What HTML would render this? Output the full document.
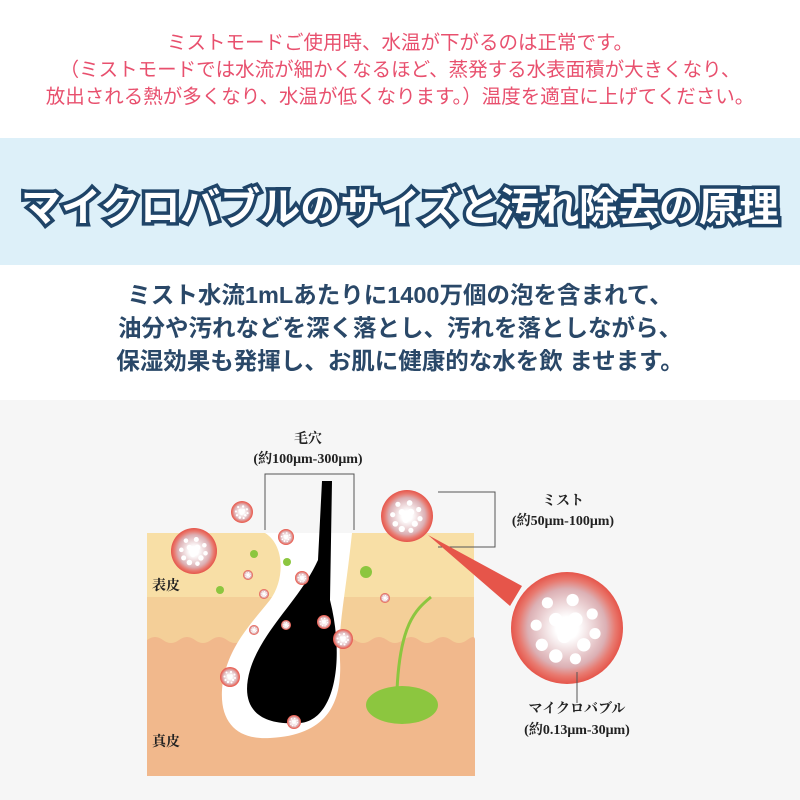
<!DOCTYPE html>
<html><head><meta charset="utf-8"><style>
body{margin:0;width:800px;height:800px;overflow:hidden;background:#fff;font-family:"Liberation Sans","Noto Sans CJK JP",sans-serif;position:relative}
.top{position:absolute;top:30px;left:0;width:800px;text-align:center;color:#e8506e;font-size:19.5px;line-height:27px}
.band{position:absolute;top:138px;left:0;width:800px;height:127px;background:#ddf0f9}
.title{position:absolute;top:175px;width:800px;text-align:center;font-size:40px;font-weight:bold;color:#fff;-webkit-text-stroke:7px #1f4468;paint-order:stroke fill}
.body{position:absolute;top:279px;width:800px;text-align:center;color:#2a4868;font-size:23.5px;font-weight:bold;line-height:33px}
.gray{position:absolute;top:400px;left:0;width:800px;height:400px;background:#f6f6f6}
svg{position:absolute;left:0;top:400px}
</style></head><body>
<div class="top">ミストモードご使用時、水温が下がるのは正常です。<br>（ミストモードでは水流が細かくなるほど、蒸発する水表面積が大きくなり、<br>放出される熱が多くなり、水温が低くなります。）温度を適宜に上げてください。</div>
<div class="band"></div>
<div class="title">マイクロバブルのサイズと汚れ除去の原理</div>
<div class="body">ミスト水流1mLあたりに1400万個の泡を含まれて、<br>油分や汚れなどを深く落とし、汚れを落としながら、<br>保湿効果も発揮し、お肌に健康的な水を飲 ませます。</div>
<div class="gray"></div>
<svg width="800" height="400" viewBox="0 400 800 400" font-family="Liberation Serif,Noto Serif CJK SC,serif">
<defs>
<radialGradient id="b"><stop offset="0.2" stop-color="#fff"/><stop offset="0.7" stop-color="#dcb0b4"/><stop offset="0.86" stop-color="#e87a70"/><stop offset="1" stop-color="#e6554a"/></radialGradient>
<g id="bub"><circle r="1" fill="url(#b)"/>
<g fill="#fff"><circle cx="-0.35" cy="-0.45" r="0.1"/><circle cx="0.1" cy="-0.5" r="0.11"/><circle cx="0.45" cy="-0.25" r="0.1"/><circle cx="-0.55" cy="-0.05" r="0.1"/><circle cx="-0.2" cy="-0.15" r="0.12"/><circle cx="0.15" cy="-0.15" r="0.13"/><circle cx="0.5" cy="0.1" r="0.1"/><circle cx="-0.45" cy="0.3" r="0.11"/><circle cx="-0.05" cy="0.15" r="0.12"/><circle cx="0.3" cy="0.3" r="0.12"/><circle cx="-0.2" cy="0.5" r="0.12"/><circle cx="0.15" cy="0.55" r="0.1"/></g></g>
</defs>
<rect x="147" y="533" width="327" height="64" fill="#f8dfa6"/>
<rect x="147" y="597" width="327" height="50" fill="#f4cf98"/>
<path d="M147 640 q8 -6 16 0 t16 0 t16 0 t16 0 t16 0 t16 0 t16 0 t16 0 t16 0 t16 0 t16 0 t16 0 t16 0 t16 0 t16 0 t16 0 t16 0 t16 0 t16 0 t16 0 t8 0 V776 H147Z" fill="#f1b88c"/>
<path d="M265 533 C285 545 285 580 270 600 C250 625 225 650 222 690 C220 725 240 740 270 738 C330 735 342 700 340 660 C338 625 345 600 352 533 Z" fill="#fff"/>
<path d="M322 481 L332 481 L330 600 C345 660 335 720 300 723 C255 726 240 705 250 670 C262 630 300 600 318 560 Z" fill="#000"/>
<path d="M431 597 C415 610 400 625 397 690" stroke="#8cc63f" stroke-width="3" fill="none"/>
<ellipse cx="402" cy="705" rx="36" ry="19" fill="#8cc63f"/>
<g fill="#8cc63f"><circle cx="254" cy="554" r="4"/><circle cx="287" cy="562" r="4"/><circle cx="220" cy="590" r="4"/><circle cx="366" cy="572" r="6"/></g>
<g stroke="#555" stroke-width="1" fill="none"><path d="M265 530 V474 H354 V530"/><path d="M438 492 H495 V547 H438"/></g>
<path d="M428 535 L522 586 L510 606 Z" fill="#e6554a"/>
<use href="#bub" transform="translate(242,512) scale(11)"/>
<use href="#bub" transform="translate(194,551) scale(23)"/>
<use href="#bub" transform="translate(407,516) scale(26)"/>
<use href="#bub" transform="translate(567,628) scale(56)"/>
<use href="#bub" transform="translate(286,537) scale(8)"/>
<use href="#bub" transform="translate(302,578) scale(7)"/>
<use href="#bub" transform="translate(248,575) scale(5)"/>
<use href="#bub" transform="translate(264,594) scale(5)"/>
<use href="#bub" transform="translate(286,625) scale(5)"/>
<use href="#bub" transform="translate(254,630) scale(5)"/>
<use href="#bub" transform="translate(324,622) scale(7)"/>
<use href="#bub" transform="translate(343,639) scale(10)"/>
<use href="#bub" transform="translate(230,677) scale(10)"/>
<use href="#bub" transform="translate(294,722) scale(7)"/>
<use href="#bub" transform="translate(385,598) scale(5)"/>
<line x1="577" y1="672" x2="577" y2="703" stroke="#555"/>
<g fill="#222" font-size="14" font-weight="bold" text-anchor="middle">
<text x="308" y="443">毛穴</text>
<text x="308" y="463">(約100μm-300μm)</text>
<text x="563" y="505">ミスト</text>
<text x="563" y="525">(約50μm-100μm)</text>
<text x="577" y="713">マイクロバブル</text>
<text x="577" y="734">(約0.13μm-30μm)</text>
<text x="166" y="590">表皮</text>
<text x="166" y="746">真皮</text>
</g>
</svg>
</body></html>
